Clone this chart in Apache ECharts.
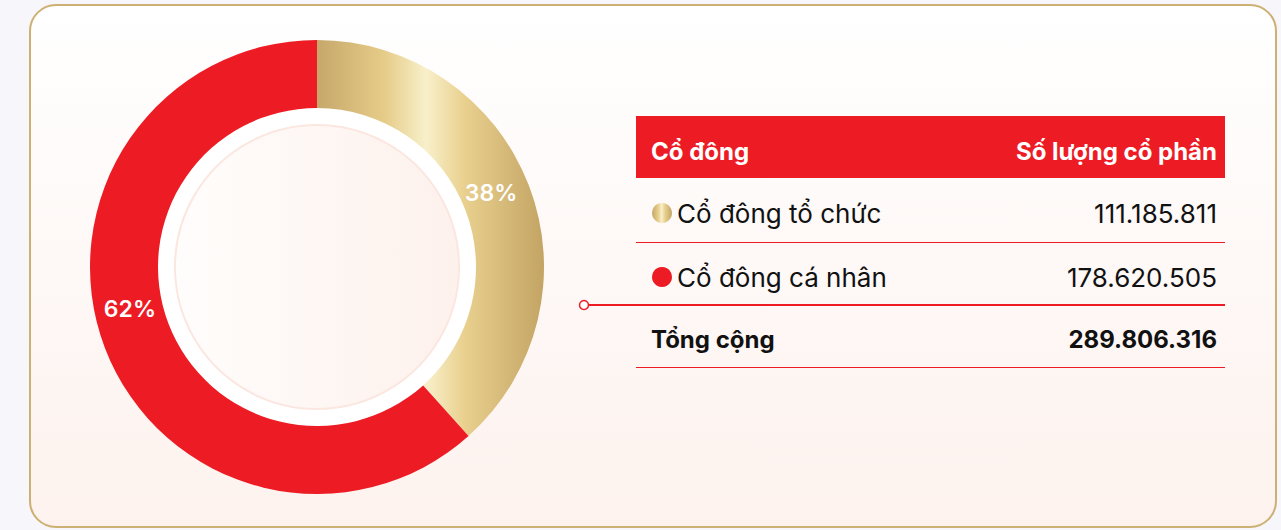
<!DOCTYPE html>
<html>
<head>
<meta charset="utf-8">
<script src="https://cdn.jsdelivr.net/npm/echarts@6/dist/echarts.min.js"></script>
<style>
    html, body { margin: 0; padding: 0; background: #f7f6fa; }
    #chart { width: 1281px; height: 530px; }
</style>
</head>
<body>
<div id="chart"></div>
<script>
// dữ liệu cổ đông
var categories = ['Cổ đông tổ chức', 'Cổ đông cá nhân'];
var shares = [111185811, 178620505];
var headers = ['Cổ đông', 'Số lượng cổ phần'];
var totalLabel = 'Tổng cộng';

var FONT = 'Inter, "Noto Sans", sans-serif';
var RED = '#ed1c24';
var gold = {
    type: 'linear', x: 0, y: 0, x2: 1, y2: 0,
    colorStops: [
        { offset: 0, color: '#c6a86a' },
        { offset: 0.3, color: '#e6cc89' },
        { offset: 0.48, color: '#f8f0cb' },
        { offset: 0.65, color: '#e9d08e' },
        { offset: 1, color: '#c3a464' }
    ]
};
var colors = [gold, RED];

function fmt(n) {
    return String(n).replace(/\B(?=(\d{3})+(?!\d))/g, '.');
}
var total = shares.reduce(function (a, b) { return a + b; }, 0);

var center = [317, 267];
var myChart = echarts.init(document.getElementById('chart'), null, { renderer: 'svg' });

// khung + bảng bên phải
var graphics = [
    {
        type: 'rect', z: -10, silent: true,
        shape: { x: 30, y: 5, width: 1246, height: 522, r: 26 },
        style: {
            fill: { type: 'linear', x: 0, y: 0, x2: 0, y2: 1,
                colorStops: [{ offset: 0, color: '#ffffff' }, { offset: 1, color: '#fdf2ee' }] },
            stroke: '#cdb073', lineWidth: 2
        }
    },
    { type: 'rect', shape: { x: 636, y: 116, width: 589, height: 62 }, style: { fill: RED } },
    { type: 'text', x: 651, y: 151, style: { text: headers[0], fill: '#fff', font: 'bold 24px ' + FONT, verticalAlign: 'middle' } },
    { type: 'text', x: 1217, y: 151, style: { text: headers[1], fill: '#fff', font: 'bold 24px ' + FONT, align: 'right', verticalAlign: 'middle' } }
];
var rowY = [213, 277];
var lineY = [242.5, 305];
categories.forEach(function (name, i) {
    graphics.push(
        { type: 'circle', shape: { cx: 662, cy: rowY[i], r: 10 }, style: { fill: colors[i] } },
        { type: 'text', x: 677, y: rowY[i], style: { text: name, fill: '#111', font: '26px ' + FONT, verticalAlign: 'middle' } },
        { type: 'text', x: 1217, y: rowY[i], style: { text: fmt(shares[i]), fill: '#111', font: '26px ' + FONT, align: 'right', verticalAlign: 'middle' } },
        { type: 'line', shape: { x1: 636, y1: lineY[i], x2: 1225, y2: lineY[i] }, style: { stroke: RED, lineWidth: i === 1 ? 2 : 1 } }
    );
});
graphics.push(
    { type: 'text', x: 651, y: 339, style: { text: totalLabel, fill: '#111', font: 'bold 24px ' + FONT, verticalAlign: 'middle' } },
    { type: 'text', x: 1217, y: 339, style: { text: fmt(total), fill: '#111', font: 'bold 24px ' + FONT, align: 'right', verticalAlign: 'middle' } },
    { type: 'line', shape: { x1: 636, y1: 367.5, x2: 1225, y2: 367.5 }, style: { stroke: RED, lineWidth: 1 } },
    { type: 'line', shape: { x1: 589, y1: 305, x2: 636, y2: 305 }, style: { stroke: RED, lineWidth: 2 } },
    { type: 'circle', shape: { cx: 584, cy: 305, r: 4.5 }, style: { fill: '#fff', stroke: RED, lineWidth: 1.5 } }
);

var labelOffsets = [[-9, -4], [-4, -28]];

myChart.setOption({
    animation: false,
    graphic: graphics,
    series: [
        {
            type: 'pie', silent: true, center: center, radius: [0, 159], z: 1,
            label: { show: false }, labelLine: { show: false },
            itemStyle: { color: '#ffffff' },
            data: [{ value: 1 }]
        },
        {
            type: 'pie', silent: true, center: center, radius: [0, 142], z: 2,
            label: { show: false }, labelLine: { show: false },
            itemStyle: {
                color: { type: 'linear', x: 0, y: 0, x2: 1, y2: 0,
                    colorStops: [{ offset: 0, color: '#fffdfc' }, { offset: 1, color: '#fdf1ec' }] },
                borderColor: '#fbe7e0', borderWidth: 2
            },
            data: [{ value: 1 }]
        },
        {
            type: 'pie', center: center, radius: [159, 227], z: 3,
            startAngle: 90, clockwise: true,
            labelLine: { show: false },
            label: {
                show: true, position: 'inside',
                color: '#fff', fontSize: 23, fontWeight: 600, fontFamily: FONT,
                formatter: function (p) { return Math.round(p.percent) + '%'; }
            },
            data: categories.map(function (name, i) {
                return { name: name, value: shares[i], itemStyle: { color: colors[i] }, label: { offset: labelOffsets[i] } };
            })
        }
    ]
});
</script>
</body>
</html>
